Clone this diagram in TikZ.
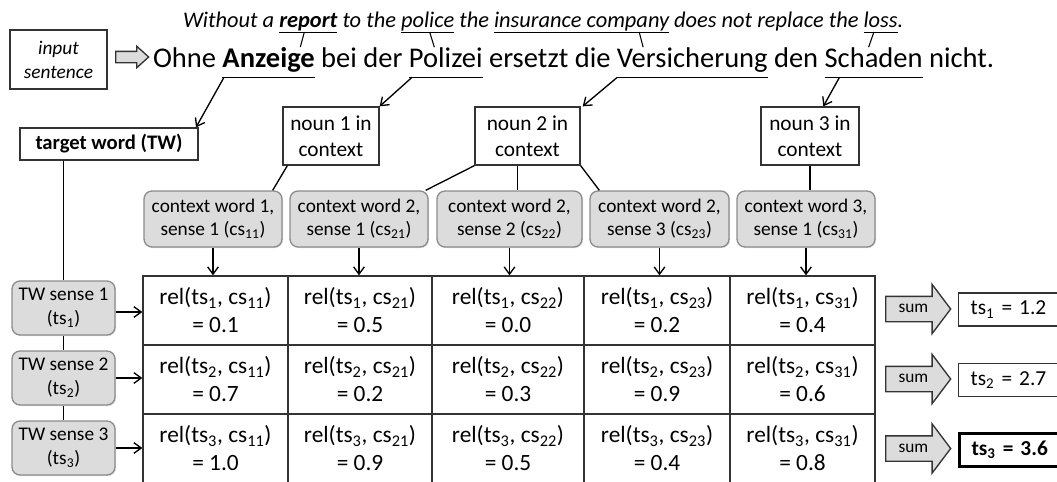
\documentclass[tikz,border=0pt]{standalone}
\usepackage{fontspec}
\setmainfont{Carlito}
\usetikzlibrary{
    positioning,
    shapes.arrows,
    arrows.meta,
    shadows
}
\definecolor{boxgray}{HTML}{DCDCDC}
\definecolor{edgegray}{HTML}{8C8C8C}
\definecolor{darkline}{HTML}{333333}
\tikzset{
    word/.style={inner sep=0pt, outer sep=0pt, anchor=base west},
    ensent/.style={word, font=\fontsize{16.8}{19}\selectfont\itshape},
    desent/.style={word, font=\fontsize{21.4}{24}\selectfont},
    ulen/.style={ensent, text depth=3.75pt},
    ulde/.style={desent, text depth=8pt},
    plainbox/.style={draw=darkline, fill=white, align=center, inner sep=1pt},
    nounbox/.style={plainbox, minimum height=43.5pt, font=\fontsize{16}{19.5}\selectfont},
    softbox/.style={draw=edgegray, fill=boxgray, rounded corners=6pt, align=center,
        inner sep=1pt, drop shadow={shadow xshift=0.8pt, shadow yshift=-0.8pt, opacity=0.25}},
    ctxbox/.style={softbox, minimum height=42pt, font=\fontsize{14.5}{17.5}\selectfont},
    sensebox/.style={softbox, minimum width=77.25pt, minimum height=40.5pt,
        font=\fontsize{14.5}{18}\selectfont},
    cell/.style={draw=darkline, align=center, minimum height=51.75pt, inner sep=0pt,
        font=\fontsize{17.5}{21}\selectfont},
    sumarrow/.style={shape=single arrow, draw=darkline, fill=boxgray, anchor=tail,
        minimum height=48.75pt, text height=8pt, text depth=2.5pt, inner ysep=3.75pt,
        inner xsep=2pt, single arrow head extend=9pt,
        single arrow tip angle=106, font=\fontsize{13}{15}\selectfont},
    resbox/.style={plainbox, anchor=west, minimum height=24.75pt, text width=70pt,
        align=left, inner xsep=9pt, font=\fontsize{16}{19}\selectfont},
}

\begin{document}
\begin{tikzpicture}[x=0.75pt, y=-0.75pt, line width=1pt,
    >={Straight Barb[length=5.5pt, width=8pt]}]
    \useasboundingbox (0,0) rectangle (1057,482);

    % english sentence
    \node[ensent] (e1) at (183,27) {Without a};
    \node[ulen, base right=3.8pt of e1] (rep) {\textbf{report}};
    \node[ensent, base right=3.8pt of rep] (e2) {to the};
    \node[ulen, base right=3.8pt of e2] (pol) {police};
    \node[ensent, base right=3.8pt of pol] (e3) {the};
    \node[ulen, base right=3.8pt of e3] (ins) {insurance company};
    \node[ensent, base right=3.8pt of ins] (e4) {does not replace the};
    \node[ulen, base right=3.8pt of e4] (loss) {loss};
    \node[ensent, base right=0pt of loss] (e5) {.};

    % german sentence
    \node[desent] (g1) at (153,67) {Ohne};
    \node[ulde, base right=4.8pt of g1] (anz) {\textbf{Anzeige}};
    \node[desent, base right=4.8pt of anz] (g2) {bei der};
    \node[ulde, base right=4.8pt of g2] (plz) {Polizei};
    \node[desent, base right=4.8pt of plz] (g3) {ersetzt die};
    \node[ulde, base right=4.8pt of g3] (vers) {Versicherung};
    \node[desent, base right=4.8pt of vers] (g4) {den};
    \node[ulde, base right=4.8pt of g4] (schd) {Schaden};
    \node[desent, base right=4.8pt of schd] (g5) {nicht.};

    % underlines
    \foreach \w in {rep, pol, ins, loss}
        \draw[line width=0.7pt] (\w.south west) -- (\w.south east);
    \foreach \w in {anz, plz, vers, schd}
        \draw[line width=0.9pt] (\w.south west) -- (\w.south east);

    \draw[line width=0.8pt] ([xshift=-3pt]rep.south) -- ([xshift=-6pt]rep.south |- anz.north);
    \draw[line width=0.8pt] ([xshift=1.5pt]pol.south) -- ([xshift=5pt]pol.south |- plz.north);
    \draw[line width=0.8pt] ([xshift=-22.5pt]ins.south east) -- ([xshift=-19.5pt]ins.south east |- vers.north);
    \draw[line width=0.8pt] ([xshift=-5pt]loss.south) -- ([xshift=-9pt]loss.south |- schd.north);

    % input
    \node[plainbox, minimum width=72.75pt, minimum height=44.25pt,
        font=\fontsize{14.5}{18}\selectfont\itshape] (inp) at (58.5,59.5) {input\\sentence};
    \node[shape=single arrow, draw=darkline, fill=boxgray, anchor=tail, inner sep=0pt,
        text height=7.5pt, text depth=0pt, minimum height=24.75pt,
        single arrow head extend=3.75pt, single arrow tip angle=84] (inarr) at (115,57) {};

    % target word and nouns
    \node[plainbox, minimum width=133.5pt, minimum height=24pt,
        font=\fontsize{15.5}{18}\selectfont\bfseries] (tw) at (109,144) {target word (TW)};
    \node[nounbox, minimum width=72pt] (n1) at (331,136) {noun 1 in\\context};
    \node[nounbox, minimum width=78.75pt] (n2) at (527.5,136) {noun 2 in\\context};
    \node[nounbox, minimum width=73.5pt] (n3) at (810,136) {noun 3 in\\context};

    \draw[->] ([xshift=1pt]anz.south west) -- ([xshift=-2pt]tw.north east);
    \draw[->] ([xshift=2pt]plz.south west) -- (n1.north east);
    \draw[->] (vers.south west) -- ([xshift=1.5pt]n2.north east);
    \draw[->] ([xshift=11pt]schd.south west) -- ([xshift=10pt]n3.north);

    % context word senses
    \node[ctxbox, minimum width=103.5pt] (cw1) at (213,219) {context word 1,\\sense 1 (cs\textsubscript{11})};
    \node[ctxbox, minimum width=103.5pt] (cw2) at (359,219) {context word 2,\\sense 1 (cs\textsubscript{21})};
    \node[ctxbox, minimum width=108.75pt] (cw3) at (509.5,219) {context word 2,\\sense 2 (cs\textsubscript{22})};
    \node[ctxbox, minimum width=104.25pt] (cw4) at (659.5,219) {context word 2,\\sense 3 (cs\textsubscript{23})};
    \node[ctxbox, minimum width=103.5pt] (cw5) at (806,219) {context word 3,\\sense 1 (cs\textsubscript{31})};

    \draw ([xshift=3.75pt]n1.south west) -- ([xshift=-7.5pt]cw1.north east);
    \draw (n2.south west) -- ([xshift=-2.25pt]cw2.north east);
    \draw ([xshift=-7.5pt]n2.south) -- ([xshift=-7.5pt]n2.south |- cw3.north);
    \draw (n2.south east) -- ([xshift=7.5pt]cw4.north west);
    \draw (n3.south) -- (n3.south |- cw5.north);

    % relatedness grid
    \foreach \cx/\cw/\cs/\v [count=\j] in {215.5/108.75/11/0.1, 360/108/21/0.5,
        508/114/22/0.0, 657/109.5/23/0.2, 802.5/108.75/31/0.4}
        \node[cell, minimum width=\cw pt] (c1\j) at (\cx,310.5)
            {rel(ts\textsubscript{1}, cs\textsubscript{\cs})\\= \v};
    \foreach \cx/\cw/\cs/\v [count=\j] in {215.5/108.75/11/0.7, 360/108/21/0.2,
        508/114/22/0.3, 657/109.5/23/0.9, 802.5/108.75/31/0.6}
        \node[cell, minimum width=\cw pt] (c2\j) at (\cx,379.5)
            {rel(ts\textsubscript{2}, cs\textsubscript{\cs})\\= \v};
    \foreach \cx/\cw/\cs/\v [count=\j] in {215.5/108.75/11/1.0, 360/108/21/0.9,
        508/114/22/0.5, 657/109.5/23/0.4, 802.5/108.75/31/0.8}
        \node[cell, minimum width=\cw pt] (c3\j) at (\cx,448.5)
            {rel(ts\textsubscript{3}, cs\textsubscript{\cs})\\= \v};

    \foreach \j in {1,...,5}
        \draw[->] (cw\j.south) -- (cw\j.south |- c1\j.north);

    % target word senses
    \node[sensebox] (s1) at (63.5,308) {TW sense 1\\(ts\textsubscript{1})};
    \node[sensebox] (s2) at (63.5,378) {TW sense 2\\(ts\textsubscript{2})};
    \node[sensebox] (s3) at (63.5,448) {TW sense 3\\(ts\textsubscript{3})};

    \draw (s1.north |- tw.south) -- (s1.north);
    \draw (s1.south) -- (s2.north);
    \draw (s2.south) -- (s3.north);
    \draw[->] ([yshift=-3pt]s1.east) -- ([yshift=-3pt]s1.east -| c11.west);
    \draw[->] (s2.east) -- (s2.east -| c21.west);
    \draw[->] (s3.east) -- (s3.east -| c31.west);

    % sums
    \node[sumarrow] (sum1) at (885,309) {sum};
    \node[sumarrow] (sum2) at (885,379) {sum};
    \node[sumarrow] (sum3) at (885,448.5) {sum};
    \node[resbox] (r1) at (958,309.5) {ts\textsubscript{1} = 1.2};
    \node[resbox] (r2) at (958,380) {ts\textsubscript{2} = 2.7};
    \node[resbox, line width=2.25pt, draw=black, font=\fontsize{16}{19}\selectfont\bfseries]
        (r3) at (958,450) {ts\textsubscript{3} = 3.6};
\end{tikzpicture}
\end{document}
